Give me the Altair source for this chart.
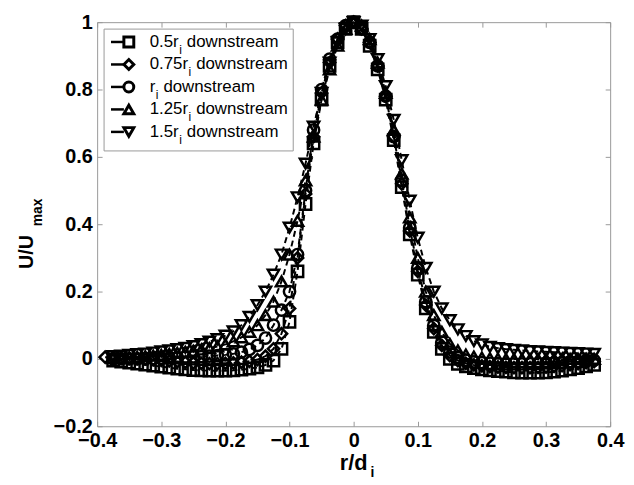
import altair as alt
import pandas as pd

# ---------------- data ----------------
X = [-0.375, -0.3625, -0.35, -0.3375, -0.325, -0.3125, -0.3, -0.2875, -0.275, -0.2625,
     -0.25, -0.2375, -0.225, -0.2125, -0.2, -0.1875, -0.175, -0.1625, -0.15, -0.1375,
     -0.125, -0.1125, -0.1, -0.0875, -0.075, -0.0625, -0.05, -0.0375, -0.025, -0.0125,
     0.0,
     0.0125, 0.025, 0.0375, 0.05, 0.0625, 0.075, 0.0875, 0.1, 0.1125, 0.125,
     0.1375, 0.15, 0.1625, 0.175, 0.1875, 0.2, 0.2125, 0.225, 0.2375, 0.25,
     0.2625, 0.275, 0.2875, 0.3, 0.3125, 0.325, 0.3375, 0.35, 0.3625, 0.375]

X_DIAMOND = [-0.3875] + X

Y_SQUARE = [-0.005, -0.008, -0.011, -0.014, -0.017, -0.02, -0.023, -0.026, -0.029, -0.031,
            -0.033, -0.034, -0.035, -0.035, -0.035, -0.034, -0.032, -0.029, -0.025, -0.018,
            -0.005, 0.03, 0.11, 0.26, 0.46, 0.64, 0.77, 0.87, 0.94, 0.98,
            1.0,
            0.98, 0.93, 0.86, 0.77, 0.65, 0.51, 0.37, 0.25, 0.15, 0.08,
            0.03, 0.0, -0.015, -0.022, -0.027, -0.031, -0.034, -0.036, -0.038, -0.04,
            -0.041, -0.041, -0.041, -0.04, -0.038, -0.035, -0.031, -0.027, -0.022, -0.018]

Y_DIAMOND = [0.005, 0.004, 0.003, 0.002, 0.001, 0.0, -0.002, -0.004, -0.006, -0.008,
             -0.01, -0.012, -0.013, -0.014, -0.014, -0.013, -0.012, -0.01, -0.007, -0.002,
             0.008, 0.03, 0.075, 0.15, 0.3, 0.49, 0.66, 0.79, 0.88, 0.95, 0.99,
             1.0,
             0.98, 0.94, 0.87, 0.78, 0.66, 0.52, 0.38, 0.26, 0.16, 0.09,
             0.04, 0.01, -0.005, -0.013, -0.018, -0.021, -0.023, -0.024, -0.025, -0.026,
             -0.026, -0.026, -0.025, -0.024, -0.022, -0.02, -0.017, -0.014, -0.011, -0.008]

Y_CIRCLE = [0.0, 0.0, 0.0, 0.0, 0.0, 0.001, 0.002, 0.003, 0.004, 0.005,
            0.006, 0.007, 0.008, 0.01, 0.012, 0.015, 0.02, 0.028, 0.04, 0.062,
            0.1, 0.145, 0.2, 0.31, 0.5, 0.68, 0.8, 0.89, 0.95, 0.99,
            1.0,
            0.98, 0.94, 0.87, 0.78, 0.66, 0.53, 0.39, 0.27, 0.17, 0.1,
            0.05, 0.02, 0.004, -0.004, -0.009, -0.011, -0.013, -0.014, -0.015, -0.015,
            -0.015, -0.014, -0.013, -0.012, -0.011, -0.01, -0.008, -0.007, -0.005, -0.004]

Y_TRI_UP = [0.002, 0.003, 0.004, 0.006, 0.008, 0.01, 0.012, 0.015, 0.018, 0.021,
            0.024, 0.028, 0.032, 0.037, 0.043, 0.052, 0.064, 0.08, 0.1, 0.13,
            0.17, 0.23, 0.31, 0.41, 0.53, 0.66, 0.77, 0.86, 0.93, 0.98,
            1.0,
            0.99, 0.95, 0.88, 0.79, 0.68, 0.55, 0.42, 0.3, 0.2, 0.13,
            0.08, 0.045, 0.025, 0.013, 0.007, 0.004, 0.002, 0.001, 0.0, 0.0,
            0.0, 0.0, 0.0, 0.0, 0.0, 0.0, 0.0, 0.0, 0.0, 0.0]

Y_TRI_DOWN = [0.008, 0.01, 0.012, 0.014, 0.016, 0.019, 0.022, 0.025, 0.029, 0.033,
              0.038, 0.044, 0.051, 0.059, 0.069, 0.082, 0.1, 0.125, 0.16, 0.2,
              0.25, 0.31, 0.39, 0.48, 0.58, 0.69, 0.79, 0.88, 0.94, 0.98,
              1.0,
              0.99, 0.95, 0.89, 0.81, 0.71, 0.59, 0.47, 0.36, 0.27, 0.2,
              0.15, 0.115, 0.088, 0.068, 0.053, 0.043, 0.036, 0.032, 0.029, 0.027,
              0.025, 0.023, 0.022, 0.021, 0.02, 0.019, 0.018, 0.017, 0.016, 0.015]

SERIES = ["0.5r", "0.75r", "r", "1.25r", "1.5r"]          # legend label stems (subscript i follows)
SHAPES = ["square", "diamond", "circle", "triangle-up", "triangle-down"]
X_TICKS = [-0.4, -0.3, -0.2, -0.1, 0, 0.1, 0.2, 0.3, 0.4]
Y_TICKS = [-0.2, 0, 0.2, 0.4, 0.6, 0.8, 1]

rows = []
for name, xs, ys in zip(SERIES, [X, X_DIAMOND, X, X, X],
                        [Y_SQUARE, Y_DIAMOND, Y_CIRCLE, Y_TRI_UP, Y_TRI_DOWN]):
    for xv, yv in zip(xs, ys):
        rows.append({"x": xv, "y": yv, "s": name})
df = pd.DataFrame(rows)

FONT = "Liberation Sans"
W, H = 518, 408
GRID = "#999999"

xscale = alt.Scale(domain=[-0.4, 0.4], nice=False, zero=False)
yscale = alt.Scale(domain=[-0.2, 1.0], nice=False, zero=False)

def xaxis(orient, labels):
    return alt.Axis(orient=orient, values=X_TICKS, format="~g", title=None, grid=False,
                    domain=False, ticks=True, tickSize=5, offset=-5, tickColor=GRID,
                    labels=labels, labelFont=FONT, labelFontSize=20, labelFontWeight="bold",
                    labelColor="black", labelPadding=4, labelFlush=False, labelOverlap=False)

def yaxis(orient, labels):
    return alt.Axis(orient=orient, values=Y_TICKS, format="~g", title=None, grid=False,
                    domain=False, ticks=True, tickSize=5, offset=-5, tickColor=GRID,
                    labels=labels, labelFont=FONT, labelFontSize=20, labelFontWeight="bold",
                    labelColor="black", labelPadding=5, labelFlush=False, labelOverlap=False)

base = alt.Chart(df)

lines = base.mark_line(color="black", strokeWidth=2, strokeDash=[6, 4]).encode(
    x=alt.X("x:Q", scale=xscale, axis=xaxis("bottom", True)),
    y=alt.Y("y:Q", scale=yscale, axis=yaxis("left", True)),
    detail="s:N",
)

points = base.mark_point(filled=False, color="black", strokeWidth=2.5, size=130, opacity=1).encode(
    x=alt.X("x:Q", scale=xscale, axis=None),
    y=alt.Y("y:Q", scale=yscale, axis=None),
    shape=alt.Shape("s:N", scale=alt.Scale(domain=SERIES, range=SHAPES), legend=None),
)

frame_axes = base.mark_point(opacity=0).encode(
    x=alt.X("x:Q", scale=xscale, axis=xaxis("top", False)),
    y=alt.Y("y:Q", scale=yscale, axis=yaxis("right", False)),
)

one = pd.DataFrame({"a": [0]})

# axis titles with subscripts
titles = [
    alt.Chart(one).mark_text(text="r/d", font=FONT, fontSize=22, fontWeight="bold",
                             align="right", baseline="alphabetic", color="black").encode(
        x=alt.value(273), y=alt.value(452)),
    alt.Chart(one).mark_text(text="i", font=FONT, fontSize=14, fontWeight="bold",
                             align="left", baseline="alphabetic", color="black").encode(
        x=alt.value(276), y=alt.value(459)),
    alt.Chart(one).mark_text(text="U/U", font=FONT, fontSize=20, fontWeight="bold", angle=270,
                             align="center", baseline="alphabetic", color="black").encode(
        x=alt.value(-65), y=alt.value(232)),
    alt.Chart(one).mark_text(text="max", font=FONT, fontSize=14, fontWeight="bold", angle=270,
                             align="center", baseline="alphabetic", color="black").encode(
        x=alt.value(-56), y=alt.value(192)),
]

# legend
legend_layers = [
    alt.Chart(one).mark_rect(fill="white", stroke=GRID, strokeWidth=1).encode(
        x=alt.value(7), x2=alt.value(198), y=alt.value(7), y2=alt.value(130))
]
char_w = {"0": 0.556, "1": 0.556, "2": 0.556, "5": 0.556, "7": 0.556, ".": 0.278, "r": 0.333}
FS = 17
for k, (stem, shp) in enumerate(zip(SERIES, SHAPES)):
    yk = 20 + 22.7 * k
    stem_w = sum(char_w[c] for c in stem) * FS
    tx = 53
    legend_layers += [
        alt.Chart(one).mark_rule(color="black", strokeWidth=2.5).encode(
            x=alt.value(14), x2=alt.value(27), y=alt.value(yk)),
        alt.Chart(one).mark_point(shape=shp, filled=False, color="black", strokeWidth=3,
                                  size=100, opacity=1).encode(
            x=alt.value(32), y=alt.value(yk)),
        alt.Chart(one).mark_text(text=stem, font=FONT, fontSize=FS, align="left",
                                 baseline="alphabetic", color="black").encode(
            x=alt.value(tx), y=alt.value(yk + 5)),
        alt.Chart(one).mark_text(text="i", font=FONT, fontSize=12, align="left",
                                 baseline="alphabetic", color="black").encode(
            x=alt.value(tx + stem_w + 0.5), y=alt.value(yk + 12)),
        alt.Chart(one).mark_text(text="downstream", font=FONT, fontSize=FS, align="left",
                                 baseline="alphabetic", color="black").encode(
            x=alt.value(tx + stem_w + 3.5 + 0.278 * FS), y=alt.value(yk + 5)),
    ]

chart = alt.layer(lines, points, frame_axes, *titles, *legend_layers).resolve_axis(
    x="independent", y="independent"
).properties(
    width=W, height=H,
    autosize=alt.AutoSizeParams(type="none"),
    padding={"left": 90, "top": 12, "right": 16, "bottom": 56},
).configure_view(stroke=GRID, strokeWidth=1)

chart.save("out.html", embed_options={"renderer": "svg", "actions": False})
